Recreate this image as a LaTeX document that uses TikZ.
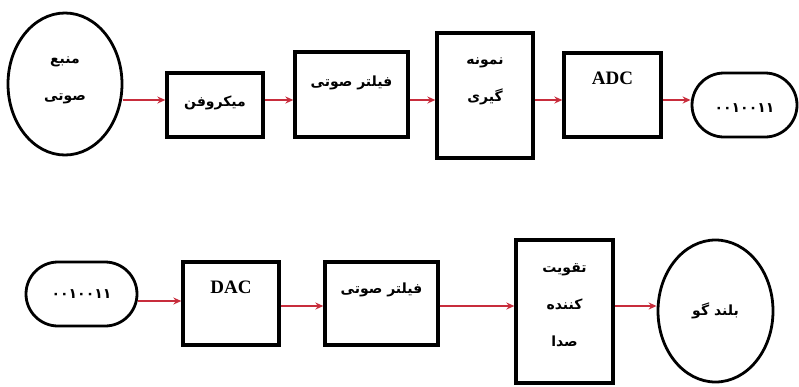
\documentclass[tikz,border=0pt]{standalone}
\usepackage{fontspec}
\setmainfont{Liberation Serif}
\newfontfamily\fa[Script=Arabic]{DejaVu Sans}
\TeXXeTstate=1
\usetikzlibrary{arrows.meta,shapes.misc,shapes.geometric}
\definecolor{sigred}{RGB}{200,45,60}

\begin{document}
\begin{tikzpicture}
    [x=1pt, y=-1pt,
    block/.style={draw, line width=3.3pt, minimum width=#1, inner sep=0pt},
    oval/.style={draw, ellipse, line width=2.8pt, inner sep=0pt},
    pill/.style={draw, rounded rectangle, line width=2.8pt, inner sep=0pt},
    every label/.style={align=center, font=\fa\bfseries\fontsize{14}{37}\selectfont},
    latin/.style={font=\bfseries\fontsize{19}{22}\selectfont},
    sig/.style={draw=sigred, line width=2pt, -{Stealth[length=8pt,width=7pt]}}
    ]
    \useasboundingbox (0,0) rectangle (799,386);

    % first row: sound to digits
    \node (src) [oval, minimum width=114pt, minimum height=142pt,
        label={[yshift=4pt]center:\beginR منبع\endR\\\beginR صوتی\endR}] at (65,84) {};
    \node (mic) [block=96pt, minimum height=64pt,
        label={[yshift=2pt]center:\beginR میکروفن\endR}] at (215,105) {};
    \node (flta) [block=113pt, minimum height=85pt,
        label={[yshift=11.5pt]center:\beginR فیلتر صوتی\endR}] at (351.5,94.5) {};
    \node (smp) [block=96pt, minimum height=125pt,
        label={[yshift=14.5pt]center:\beginR نمونه\endR\\\beginR گیری\endR}] at (485,95.5) {};
    \node (adc) [block=97pt, minimum height=84pt,
        label={[latin, yshift=17pt]center:ADC}] at (612.5,95) {};
    \node (bitsa) [pill, minimum width=105pt, minimum height=64pt,
        label={[yshift=-3pt]center:۰۰۱۰۰۱۱}] at (744.5,105) {};

    % second row: digits to speaker
    \node (bitsb) [pill, minimum width=111pt, minimum height=64pt,
        label={center:۰۰۱۰۰۱۱}] at (81.5,294) {};
    \node (dac) [block=96pt, minimum height=83pt,
        label={[latin, yshift=16.5pt]center:DAC}] at (231,303.5) {};
    \node (fltb) [block=113pt, minimum height=83pt,
        label={[yshift=13.5pt]center:\beginR فیلتر صوتی\endR}] at (381.5,303.5) {};
    \node (amp) [block=97pt, minimum height=143pt,
        label={[yshift=6.5pt]center:\beginR تقویت\endR\\\beginR کننده\endR\\\beginR صدا\endR}] at (564.5,311.5) {};
    \node (spk) [oval, minimum width=115pt, minimum height=142pt,
        label={center:\beginR بلند گو\endR}] at (715.5,311) {};

    % signal arrows
    \draw[sig] (src.east |- 0,100) -- (mic.west |- 0,100);
    \draw[sig] (mic.east |- 0,100) -- (flta.west |- 0,100);
    \draw[sig] (flta.east |- 0,100) -- (smp.west |- 0,100);
    \draw[sig] (smp.east |- 0,100) -- (adc.west |- 0,100);
    \draw[sig] (adc.east |- 0,100) -- (bitsa.west |- 0,100);
    \draw[sig] (bitsb.east |- 0,301) -- (dac.west |- 0,301);
    \draw[sig] (dac.east |- 0,306) -- (fltb.west |- 0,306);
    \draw[sig] (fltb.east |- 0,306) -- (amp.west |- 0,306);
    \draw[sig] (amp.east |- 0,306) -- (spk.west |- 0,306);
\end{tikzpicture}
\end{document}
